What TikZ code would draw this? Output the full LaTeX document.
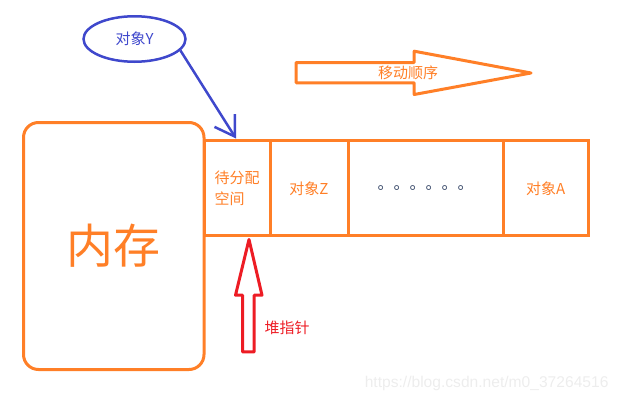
\documentclass[tikz,border=0pt]{standalone}
\usepackage{fontspec}
\setmainfont{Noto Sans CJK SC}
\newfontfamily\wmfont{Liberation Sans}
\usetikzlibrary{positioning,shapes.geometric,arrows.meta}
\definecolor{porange}{HTML}{FF7F27}
\definecolor{pblue}{HTML}{3F48CC}
\definecolor{pred}{HTML}{ED1C24}
\definecolor{pdots}{HTML}{3A4A6A}
\tikzset{>=latex}
\tikzset{
  cell/.style={draw=porange, line width=3pt, minimum height=95pt, inner sep=0pt, outer sep=0pt, text=porange, font=\fontsize{15}{21}\selectfont},
  small/.style={font=\fontsize{15}{21}\selectfont}
}

\begin{document}
\begin{tikzpicture}[x=1pt, y=-1pt]
      \useasboundingbox (0,0) rectangle (621,402);
      \node[draw=porange, line width=3pt, rounded corners=15pt, minimum width=180.5pt, minimum height=247pt, inner sep=0pt, outer sep=0pt, text=porange] (n0) at (113.75,246) {\fontsize{47}{47}\selectfont 内存};
      \node[cell, minimum width=66pt, anchor=west, align=left] (c0) at (204,188.3) {待分配\\空间};
      \node[cell, minimum width=78pt, right=0pt of c0] (c1) {对象Z};
      \node[cell, minimum width=155pt, right=0pt of c1, text=pdots] (c2) {\fontsize{16}{16}\selectfont\raisebox{-3pt}{。。。。。。}};
      \node[cell, minimum width=85.4pt, right=0pt of c2] (c3) {对象A};
      \node[draw=pblue, line width=2.5pt, ellipse, minimum width=102pt, minimum height=45.5pt, inner sep=0pt, text=pblue, small] (n1) at (134.5,39) {对象Y};
      \coordinate (aux1) at (236,138.5);
      \draw[pblue, line width=2.5pt, -{Straight Barb[length=19pt, width=24pt]}] (n1.-14) -- (aux1);
      \node[text=porange, small] (n2) at (408,73) {移动顺序};
      \draw[porange, line width=3pt, line join=round] (296.2,62.5) -- (414.2,62.5) -- (414.2,51.2) -- (531,73) -- (414.2,94.5) -- (414.2,82.8) -- (296.2,82.8) -- cycle;
      \draw[pred, line width=3pt, line join=round] (249,239.5) -- (262,295.2) -- (254.2,295.2) -- (254.2,351.8) -- (242.5,351.8) -- (242.5,295.2) -- (235.5,295.2) -- cycle;
      \node[text=pred, small] (n3) at (287,328) {堆指针};
      \node[text=black!7, anchor=east, font=\wmfont\fontsize{15.6}{16}\selectfont] (n4) at (612,383) {https://blog.csdn.net/m0\_37264516};
    \end{tikzpicture}
\end{document}
